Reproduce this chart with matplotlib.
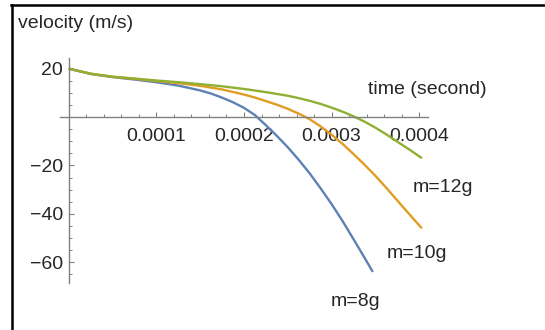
import numpy as np
import matplotlib
matplotlib.use("Agg")
import matplotlib.pyplot as plt
from matplotlib.lines import Line2D
from matplotlib.ticker import MultipleLocator

plt.rcParams['font.family'] = ['Liberation Sans', 'DejaVu Sans']

# time in units of 1e-4 s, velocity in m/s
t_8g = [0, 0.25, 0.5, 0.75, 1.0, 1.25, 1.5, 1.625, 1.75, 1.875, 2.0, 2.125, 2.25,
        2.375, 2.5, 2.625, 2.75, 2.875, 3.0, 3.125, 3.25, 3.36, 3.47]
v_8g = [20, 17.8, 16.5, 15.5, 14.4, 13.0, 11.0, 9.7, 8.0, 6.1, 3.8, 0.8, -3.4,
        -7.8, -12.5, -17.7, -23.3, -29.5, -36.0, -43.0, -50.5, -57.2, -64.0]

t_10g = [0, 0.25, 0.5, 0.75, 1.0, 1.25, 1.5, 1.75, 2.0, 2.125, 2.25, 2.375, 2.5,
         2.625, 2.75, 2.875, 3.0, 3.125, 3.25, 3.375, 3.5, 3.625, 3.75, 3.89, 4.03]
v_10g = [20, 17.9, 16.6, 15.8, 14.9, 14.0, 12.9, 11.4, 9.3, 8.05, 6.6, 5.1, 3.4,
         1.4, -0.9, -3.9, -7.3, -11.1, -15.3, -19.7, -24.3, -29.3, -34.5, -40.3, -46.0]

t_12g = [0, 0.25, 0.5, 0.75, 1.0, 1.25, 1.5, 1.75, 2.0, 2.25, 2.5, 2.625, 2.75,
         2.875, 3.0, 3.125, 3.25, 3.375, 3.5, 3.625, 3.75, 3.89, 4.03]
v_12g = [20, 17.9, 16.7, 15.9, 15.1, 14.4, 13.6, 12.7, 11.6, 10.3, 8.8, 7.8, 6.7,
         5.4, 3.9, 2.2, 0.3, -1.9, -4.4, -7.2, -10.2, -13.5, -17.0]

xtick_vals = [0.0001, 0.0002, 0.0003, 0.0004]
xtick_labels = ["0.0001", "0.0002", "0.0003", "0.0004"]
ytick_vals = [-60, -40, -20, 20]
ytick_labels = ["\u221260", "\u221240", "\u221220", "20"]

W, H = 545, 330
fig = plt.figure(figsize=(W / 100, H / 100), dpi=100)
fig.patch.set_facecolor("white")

# axes box in pixels: left 60, right 428, top 58, bottom 283
ax = fig.add_axes([60 / W, 1 - 283 / H, 368 / W, 225 / H])
ax.set_xlim(-0.1e-4, 4.1e-4)
ax.set_ylim(-68.6, 24.4)
ax.patch.set_alpha(0)

blue = "#5e81b5"
orange = "#e19c24"
green = "#8fb032"
ax.plot(np.array(t_8g) * 1e-4, v_8g, color=blue, lw=1.7, solid_capstyle="butt")
ax.plot(np.array(t_10g) * 1e-4, v_10g, color=orange, lw=1.7, solid_capstyle="butt")
ax.plot(np.array(t_12g) * 1e-4, v_12g, color=green, lw=1.7, solid_capstyle="butt")

axis_col = "#808080"
for s in ["top", "right"]:
    ax.spines[s].set_visible(False)
ax.spines["left"].set_position(("data", 0))
ax.spines["bottom"].set_position(("data", 0))
for s in ["left", "bottom"]:
    ax.spines[s].set_color(axis_col)
    ax.spines[s].set_linewidth(1.0)

ax.set_xticks(xtick_vals)
ax.set_xticklabels(xtick_labels)
ax.set_yticks(ytick_vals)
ax.set_yticklabels(ytick_labels)
ax.xaxis.set_minor_locator(MultipleLocator(0.00002))
ax.yaxis.set_minor_locator(MultipleLocator(5))
ax.tick_params(which="major", direction="in", length=3.5, width=0.8, color=axis_col,
               labelsize=14, labelcolor="#262626")
ax.tick_params(which="minor", direction="in", length=2, width=0.7, color=axis_col)
ax.tick_params(axis="x", pad=8)
ax.tick_params(axis="y", pad=4)

txt = dict(color="#262626", fontsize=14)
fig.text(18 / W, 1 - 23 / H, "velocity (m/s)", ha="left", va="center", **txt)
fig.text(368 / W, 1 - 90 / H, "time (second)", ha="left", va="center", **txt)
fig.text(413 / W, 1 - 187 / H, "m=12g", ha="left", va="center", **txt)
fig.text(387 / W, 1 - 253 / H, "m=10g", ha="left", va="center", **txt)
fig.text(331 / W, 1 - 302 / H, "m=8g", ha="left", va="center", **txt)

# black frame on left and top edge
fig.add_artist(Line2D([12 / W, 12 / W], [0, 1 - 5 / H], color="black", lw=1.8,
                      transform=fig.transFigure))
fig.add_artist(Line2D([11 / W, 1], [1 - 5 / H, 1 - 5 / H], color="black", lw=1.8,
                      transform=fig.transFigure))

fig.savefig("out.png", dpi=100)
